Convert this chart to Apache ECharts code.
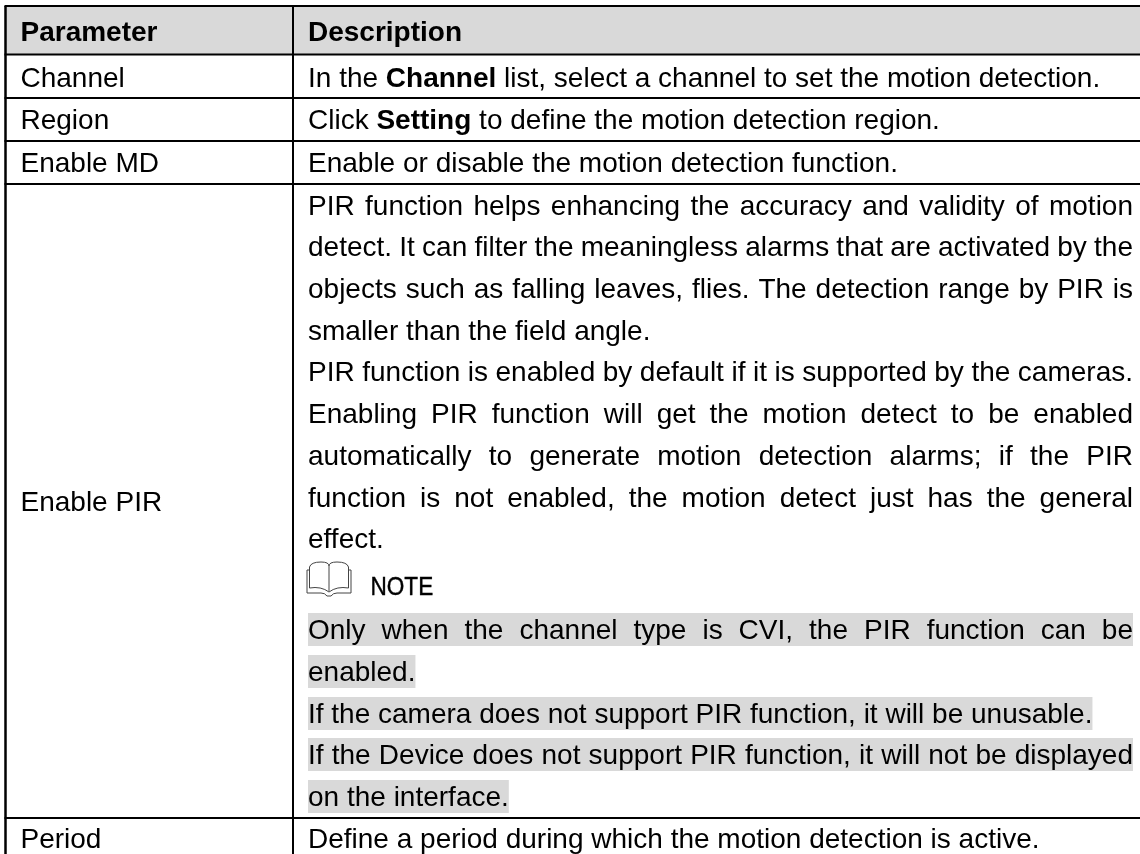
<!DOCTYPE html>
<html>
<head>
<meta charset="utf-8">
<title>Motion detection parameters</title>
<script src="https://cdn.jsdelivr.net/npm/echarts@6/dist/echarts.min.js"></script>
<style>
  html, body { margin: 0; padding: 0; background: #fff; }
  #main { width: 1140px; height: 854px; }
</style>
</head>
<body>
<div id="main"></div>
<script>
  // table text, ** marks bold
  var headers = ['Parameter', 'Description'];
  var paramNames = ['Channel', 'Region', 'Enable MD', 'Enable PIR', 'Period'];
  var descLines = [
    'In the **Channel** list, select a channel to set the motion detection.',
    'Click **Setting** to define the motion detection region.',
    'Enable or disable the motion detection function.',
    'PIR function helps enhancing the accuracy and validity of motion',
    'detect. It can filter the meaningless alarms that are activated by the',
    'objects such as falling leaves, flies. The detection range by PIR is',
    'smaller than the field angle.',
    'PIR function is enabled by default if it is supported by the cameras.',
    'Enabling PIR function will get the motion detect to be enabled',
    'automatically to generate motion detection alarms; if the PIR',
    'function is not enabled, the motion detect just has the general',
    'effect.',
    'Only when the channel type is CVI, the PIR function can be',
    'enabled.',
    'If the camera does not support PIR function, it will be unusable.',
    'If the Device does not support PIR function, it will not be displayed',
    'on the interface.',
    'Define a period during which the motion detection is active.'
  ];
  var noteLabel = 'NOTE';

  // layout of the page, all in pixels
  var fontFamily = '"Liberation Sans", Arial, sans-serif';
  var fontSize = 28;
  var midOffset = 8; // baseline to text middle
  var leftX = 5.5, colX = 293, rightX = 1140;
  var paramX = 20.5, descX = 308, descRight = 1133;
  var topY = 6, bottomY = 818;
  var ruleYs = [6, 54.5, 98, 141, 184, 818];
  var headerBaseline = 41;
  var paramBaselines = [87, 129.5, 172, 511, 848];
  var descBaselines = [87, 129.5, 172, 215, 256.5, 298, 340, 381, 423, 465, 507, 548, 639, 681, 723, 764, 806, 848];
  var justified = [3, 4, 5, 7, 8, 9, 10, 12, 15];
  var shaded = [12, 13, 14, 15, 16];
  var shadeAbove = 26, shadeBelow = 7;
  var grey = '#d9d9d9';

  var ctx = document.createElement('canvas').getContext('2d');

  function fontOf(bold) {
    return (bold ? 'bold ' : '') + fontSize + 'px ' + fontFamily;
  }

  function widthOf(str, bold) {
    ctx.font = fontOf(bold);
    return ctx.measureText(str).width;
  }

  function textEl(str, x, baseline, bold) {
    return {
      type: 'text',
      x: x,
      y: baseline - midOffset,
      silent: true,
      style: {
        text: str,
        font: fontOf(bold),
        fill: '#000',
        textAlign: 'left',
        textVerticalAlign: 'middle'
      }
    };
  }

  function ruleEl(x1, y1, x2, y2, lw) {
    return {
      type: 'line',
      silent: true,
      shape: { x1: x1, y1: y1, x2: x2, y2: y2 },
      style: { stroke: '#000', lineWidth: lw || 2 }
    };
  }

  function iconLine(points) {
    return {
      type: 'polyline',
      silent: true,
      x: 307,
      y: 562,
      shape: { points: points },
      style: { fill: 'none', stroke: '#444', lineWidth: 1 }
    };
  }

  function iconCurve(x1, y1, cx, cy, x2, y2) {
    return {
      type: 'bezierCurve',
      silent: true,
      x: 307,
      y: 562,
      shape: { x1: x1, y1: y1, cpx1: cx, cpy1: cy, x2: x2, y2: y2 },
      style: { fill: 'none', stroke: '#444', lineWidth: 1 }
    };
  }

  function plainWidth(line) {
    return widthOf(line.replace(/\*\*/g, ''), false);
  }

  function buildElements() {
    var els = [];

    // header band
    els.push({
      type: 'rect', silent: true,
      shape: { x: leftX, y: topY, width: rightX - leftX, height: ruleYs[1] - topY },
      style: { fill: grey }
    });

    // highlighted note lines go under the text
    for (var s = 0; s < shaded.length; s++) {
      var idx = shaded[s];
      els.push({
        type: 'rect', silent: true,
        shape: {
          x: descX,
          y: descBaselines[idx] - shadeAbove,
          width: justified.indexOf(idx) >= 0 ? descRight - descX : plainWidth(descLines[idx]),
          height: shadeAbove + shadeBelow
        },
        style: { fill: grey }
      });
    }

    for (var r = 0; r < ruleYs.length; r++)
      els.push(ruleEl(leftX - 1, ruleYs[r], rightX, ruleYs[r]));
    els.push(ruleEl(leftX, topY, leftX, bottomY + 36, 2.5));
    els.push(ruleEl(colX, topY, colX, bottomY + 36));

    els.push(textEl(headers[0], paramX, headerBaseline, true));
    els.push(textEl(headers[1], descX, headerBaseline, true));

    for (var p = 0; p < paramNames.length; p++)
      els.push(textEl(paramNames[p], paramX, paramBaselines[p], false));

    for (var i = 0; i < descLines.length; i++) {
      if (justified.indexOf(i) >= 0) {
        var words = descLines[i].split(' ');
        var total = 0;
        for (var w = 0; w < words.length; w++) total += widthOf(words[w], false);
        var gap = (descRight - descX - total) / (words.length - 1);
        var x = descX;
        for (var k = 0; k < words.length; k++) {
          els.push(textEl(words[k], x, descBaselines[i], false));
          x += widthOf(words[k], false) + gap;
        }
      } else {
        // odd pieces of the split are the bold ones
        var runs = descLines[i].split('**');
        var cx = descX;
        for (var n = 0; n < runs.length; n++) {
          els.push(textEl(runs[n], cx, descBaselines[i], n % 2 === 1));
          cx += widthOf(runs[n], n % 2 === 1);
        }
      }
    }

    // book icon of the note
    els.push(iconLine([[2.5, 26], [2.5, 5]]));
    els.push(iconCurve(2.5, 5, 4, 0, 14, 0));
    els.push(iconCurve(14, 0, 22, 0, 22, 4));
    els.push(iconCurve(22, 4, 22, 0, 30, 0));
    els.push(iconCurve(30, 0, 40, 0, 41.5, 5));
    els.push(iconLine([[41.5, 5], [41.5, 26]]));
    els.push(iconLine([[22, 4], [22, 29]]));
    els.push(iconCurve(2.5, 26, 14, 24, 22, 30));
    els.push(iconCurve(22, 30, 30, 24, 41.5, 26));
    els.push(iconLine([[2.5, 8], [0, 8], [0, 31], [14, 31]]));
    els.push(iconCurve(14, 31, 18, 31, 20, 34));
    els.push(iconLine([[20, 34], [24, 34]]));
    els.push(iconCurve(24, 34, 26, 31, 30, 31));
    els.push(iconLine([[30, 31], [44, 31], [44, 8], [41.5, 8]]));

    // the label is set narrower than the body text
    els.push({
      type: 'text', silent: true,
      x: 370.5, y: 595 - 7.5, scaleX: 0.885,
      style: {
        text: noteLabel,
        font: '25.5px ' + fontFamily,
        fill: '#000',
        stroke: '#000',
        lineWidth: 0.4,
        textAlign: 'left',
        textVerticalAlign: 'middle'
      }
    });

    return els;
  }

  var myChart = echarts.init(document.getElementById('main'));
  myChart.setOption({
    animation: false,
    backgroundColor: '#fff',
    graphic: { elements: buildElements() }
  });
</script>
</body>
</html>
